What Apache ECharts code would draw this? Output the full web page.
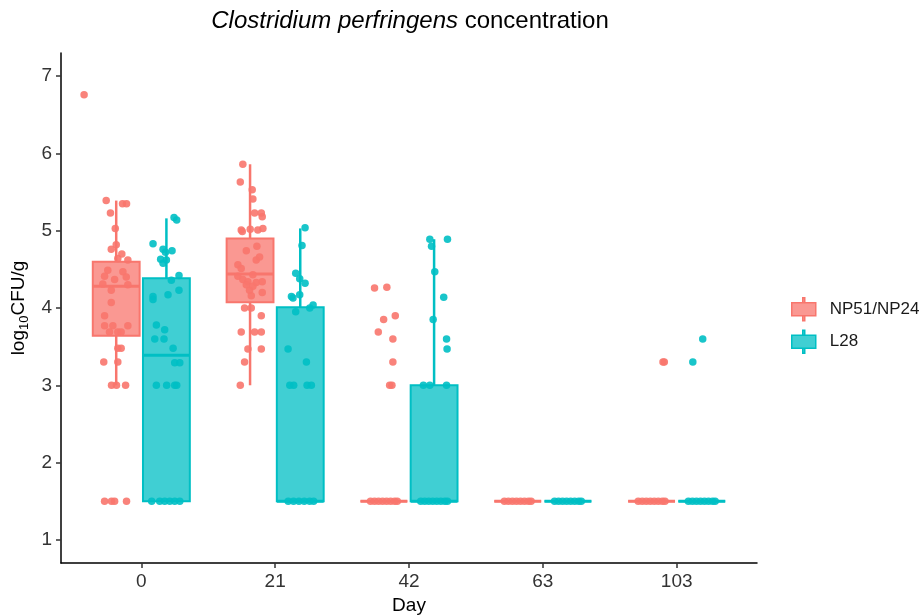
<!DOCTYPE html>
<html>
<head>
<meta charset="utf-8">
<script src="https://cdn.jsdelivr.net/npm/echarts@6/dist/echarts.min.js"></script>
<style>
  html, body { margin: 0; background: #fff; }
  #chart { width: 922px; height: 615px; }
</style>
</head>
<body>
<div id="chart"></div>
<script>
const days = ['0', '21', '42', '63', '103'];
const groupNames = ['NP51/NP24', 'L28'];
const yTicks = [1, 2, 3, 4, 5, 6, 7];

// box stats per day: [lower whisker, Q1, median, Q3, upper whisker]
const npBox = [
  [3.0, 3.64, 4.28, 4.60, 5.39],
  [3.0, 4.075, 4.44, 4.90, 5.86],
  [1.5, 1.5, 1.5, 1.5, 1.5],
  [1.5, 1.5, 1.5, 1.5, 1.5],
  [1.5, 1.5, 1.5, 1.5, 1.5]
];
const l28Box = [
  [1.5, 1.5, 3.39, 4.385, 5.16],
  [1.5, 1.5, 1.5, 4.01, 5.03],
  [1.5, 1.5, 1.5, 3.0, 4.89],
  [1.5, 1.5, 1.5, 1.5, 1.5],
  [1.5, 1.5, 1.5, 1.5, 1.5]
];

// jittered samples per day: [jitter (category units), log10 CFU/g]
const npPoints = [
  [[-0.24, 6.76], [-0.075, 5.39], [0.047, 5.35], [0.077, 5.35], [-0.043, 5.23], [-0.007, 5.03],
   [0, 4.82], [-0.037, 4.76], [0.042, 4.70], [0.012, 4.64], [0.087, 4.62], [-0.063, 4.49],
   [0.05, 4.47], [-0.087, 4.41], [0.075, 4.40], [-0.012, 4.37], [-0.1, 4.31], [0.087, 4.30],
   [-0.037, 4.23], [-0.037, 4.07], [-0.087, 3.90], [-0.087, 3.77], [-0.025, 3.77], [0.087, 3.77],
   [-0.05, 3.69], [0.012, 3.69], [0.037, 3.69], [0.012, 3.48], [0.037, 3.48], [-0.093, 3.30],
   [0.012, 3.30], [-0.035, 3.0], [0.002, 3.0], [0.07, 3.0],
   [-0.087, 1.5], [-0.035, 1.5], [-0.012, 1.5], [0.077, 1.5]],
  [[-0.054, 5.86], [-0.073, 5.63], [0.016, 5.53], [0.021, 5.41], [0.034, 5.23], [0.084, 5.23],
   [0.091, 5.18], [-0.066, 5.01], [-0.058, 4.99], [0.001, 5.02], [0.058, 5.01], [0.096, 5.03],
   [-0.028, 4.74], [0.051, 4.80], [0.046, 4.62], [0.071, 4.66], [-0.091, 4.56], [-0.066, 4.51],
   [-0.091, 4.41], [-0.054, 4.37], [-0.016, 4.34], [0.021, 4.43], [0.046, 4.33], [0.091, 4.34],
   [-0.028, 4.30], [-0.004, 4.23], [0.021, 4.28], [0.091, 4.20], [0.009, 4.16], [-0.041, 4.0],
   [0.009, 4.0], [0.084, 3.90], [-0.066, 3.69], [0.034, 3.69], [0.084, 3.69], [-0.016, 3.47],
   [0.084, 3.47], [-0.041, 3.30], [-0.073, 3.0]],
  [[-0.07, 4.26], [0.022, 4.27], [0.085, 3.90], [-0.002, 3.85], [-0.042, 3.69], [0.067, 3.60],
   [0.067, 3.30], [0.043, 3.0], [0.06, 3.0],
   [-0.1, 1.5], [-0.07, 1.5], [-0.04, 1.5], [-0.01, 1.5], [0.02, 1.5], [0.05, 1.5], [0.08, 1.5], [0.1, 1.5]],
  [[-0.1, 1.5], [-0.07, 1.5], [-0.04, 1.5], [-0.01, 1.5], [0.02, 1.5], [0.05, 1.5], [0.08, 1.5], [0.1, 1.5]],
  [[0.085, 3.3], [0.095, 3.3],
   [-0.1, 1.5], [-0.07, 1.5], [-0.04, 1.5], [-0.01, 1.5], [0.02, 1.5], [0.05, 1.5], [0.08, 1.5], [0.1, 1.5]]
];
const l28Points = [
  [[0.057, 5.17], [0.077, 5.14], [-0.1, 4.83], [-0.025, 4.76], [0.042, 4.74], [-0.007, 4.72],
   [-0.043, 4.63], [0, 4.62], [-0.025, 4.58], [0.094, 4.42], [0.037, 4.36], [0.094, 4.23],
   [0.012, 4.17], [-0.1, 4.15], [-0.1, 4.11], [-0.075, 3.78], [-0.013, 3.72], [-0.087, 3.60],
   [-0.018, 3.60], [0.05, 3.48], [0.062, 3.29], [0.1, 3.29], [-0.075, 3.0], [0.002, 3.0],
   [0.062, 3.0], [0.077, 3.0],
   [-0.11, 1.5], [-0.05, 1.5], [-0.013, 1.5], [0.025, 1.5], [0.062, 1.5], [0.1, 1.5]],
  [[0.036, 5.04], [0.013, 4.81], [-0.034, 4.45], [-0.004, 4.38], [0.036, 4.32], [-0.066, 4.15],
   [-0.054, 4.13], [-0.004, 4.17], [-0.034, 3.95], [0.096, 4.04], [0.071, 4.0], [-0.091, 3.47],
   [0.046, 3.30], [-0.078, 3.0], [-0.049, 3.0], [0.051, 3.0], [0.083, 3.0],
   [-0.09, 1.5], [-0.05, 1.5], [-0.01, 1.5], [0.03, 1.5], [0.07, 1.5], [0.1, 1.5]],
  [[-0.032, 4.89], [0.1, 4.89], [-0.019, 4.80], [0.005, 4.47], [0.072, 4.14], [-0.007, 3.85],
   [0.093, 3.60], [0.097, 3.47], [-0.08, 3.0], [-0.032, 3.0], [0.093, 3.0],
   [-0.1, 1.5], [-0.07, 1.5], [-0.04, 1.5], [-0.01, 1.5], [0.02, 1.5], [0.05, 1.5], [0.08, 1.5], [0.1, 1.5]],
  [[-0.1, 1.5], [-0.07, 1.5], [-0.04, 1.5], [-0.01, 1.5], [0.02, 1.5], [0.05, 1.5], [0.08, 1.5], [0.1, 1.5]],
  [[-0.067, 3.3], [0.007, 3.6],
   [-0.1, 1.5], [-0.07, 1.5], [-0.04, 1.5], [-0.01, 1.5], [0.02, 1.5], [0.05, 1.5], [0.08, 1.5], [0.1, 1.5]]
];

const npColor = '#F8766D', npFill = 'rgba(248,118,109,0.75)';
const l28Color = '#00BFC4', l28Fill = 'rgba(0,191,196,0.75)';
const dodge = 0.1875;
const halfBox = 0.175;

function boxSeries(name, stats, offset, color, fill) {
  return {
    name: name,
    type: 'custom',
    silent: true,
    z: 2,
    itemStyle: { color: fill, borderColor: color },
    encode: { x: 0, y: [1, 2, 3, 4, 5] },
    data: stats.map(function (s, i) { return [i].concat(s); }),
    renderItem: function (params, api) {
      var x = api.value(0) + offset;
      var lo = api.coord([x, api.value(1)]);
      var q1 = api.coord([x, api.value(2)]);
      var md = api.coord([x, api.value(3)]);
      var q3 = api.coord([x, api.value(4)]);
      var hi = api.coord([x, api.value(5)]);
      var left = api.coord([x - halfBox, 1])[0];
      var right = api.coord([x + halfBox, 1])[0];
      return {
        type: 'group',
        children: [
          { type: 'line', shape: { x1: hi[0], y1: hi[1], x2: q3[0], y2: q3[1] },
            style: { stroke: color, lineWidth: 2.5 } },
          { type: 'line', shape: { x1: q1[0], y1: q1[1], x2: lo[0], y2: lo[1] },
            style: { stroke: color, lineWidth: 2.5 } },
          { type: 'rect', shape: { x: left, y: q3[1], width: right - left, height: q1[1] - q3[1] },
            style: { fill: fill, stroke: color, lineWidth: 2 } },
          { type: 'line', shape: { x1: left, y1: md[1], x2: right, y2: md[1] },
            style: { stroke: color, lineWidth: 3 } }
        ]
      };
    }
  };
}

function dotSeries(name, pts, offset, color) {
  var data = [];
  pts.forEach(function (list, i) {
    list.forEach(function (p) { data.push([i + offset + p[0], p[1]]); });
  });
  return {
    name: name,
    type: 'scatter',
    silent: true,
    z: 3,
    symbolSize: 7.5,
    itemStyle: { color: color, opacity: 0.9 },
    data: data
  };
}

const keyIcon = 'path://M11,0H13V5H11Z M0,5H24V18H0Z M11,18H13V23H11Z';

const chart = echarts.init(document.getElementById('chart'), null, { renderer: 'canvas' });
const option = {
  animation: false,
  backgroundColor: '#fff',
  title: {
    text: '{i|Clostridium perfringens} concentration',
    left: 410,
    top: 9,
    textAlign: 'center',
    padding: 0,
    textStyle: {
      fontFamily: 'Liberation Sans',
      fontSize: 24,
      fontWeight: 'normal',
      color: '#000',
      rich: { i: { fontFamily: 'Liberation Sans', fontSize: 24, fontStyle: 'italic', color: '#000' } }
    }
  },
  legend: {
    orient: 'vertical',
    left: 791,
    top: 297,
    padding: 0,
    itemWidth: 24,
    itemHeight: 23,
    itemGap: 8,
    selectedMode: false,
    textStyle: { fontFamily: 'Liberation Sans', fontSize: 17, color: '#1a1a1a', padding: [0, 0, 0, 9] },
    data: [
      { name: groupNames[0], icon: keyIcon, itemStyle: { color: npFill, borderColor: npColor, borderWidth: 1.5 } },
      { name: groupNames[1], icon: keyIcon, itemStyle: { color: l28Fill, borderColor: l28Color, borderWidth: 1.5 } }
    ]
  },
  grid: { left: 61, right: 165, top: 53, bottom: 52, containLabel: false, outerBoundsMode: 'none' },
  xAxis: {
    type: 'value',
    min: -0.6,
    max: 4.6,
    name: 'Day',
    nameLocation: 'middle',
    nameGap: 31,
    nameTextStyle: { fontFamily: 'Liberation Sans', fontSize: 19, color: '#000' },
    axisLine: { onZero: false, lineStyle: { color: '#000', width: 1.5 } },
    axisTick: { customValues: [0, 1, 2, 3, 4], length: 5, lineStyle: { color: '#333', width: 1.5 } },
    axisLabel: {
      customValues: [0, 1, 2, 3, 4],
      formatter: function (v) { return days[Math.round(v)]; },
      fontFamily: 'Liberation Sans', fontSize: 19, color: '#333', margin: 9
    },
    splitLine: { show: false }
  },
  yAxis: {
    type: 'value',
    min: 0.7,
    max: 7.3,
    name: '{a|log}{s|10}{a|CFU/g}',
    nameLocation: 'middle',
    nameRotate: 90,
    nameGap: 25,
    nameTextStyle: {
      fontFamily: 'Liberation Sans', fontSize: 19, color: '#000',
      rich: {
        a: { fontFamily: 'Liberation Sans', fontSize: 19, color: '#000', lineHeight: 24, verticalAlign: 'middle' },
        s: { fontFamily: 'Liberation Sans', fontSize: 13, color: '#000', lineHeight: 24, verticalAlign: 'bottom' }
      }
    },
    axisLine: { show: true, onZero: false, lineStyle: { color: '#000', width: 1.5 } },
    axisTick: { show: true, customValues: yTicks, length: 5, lineStyle: { color: '#333', width: 1.5 } },
    axisLabel: {
      customValues: yTicks,
      fontFamily: 'Liberation Sans', fontSize: 19, color: '#333', margin: 9
    },
    splitLine: { show: false }
  },
  series: [
    boxSeries(groupNames[0], npBox, -dodge, npColor, npFill),
    boxSeries(groupNames[1], l28Box, dodge, l28Color, l28Fill),
    dotSeries(groupNames[0], npPoints, -dodge, npColor),
    dotSeries(groupNames[1], l28Points, dodge, l28Color)
  ]
};
chart.setOption(option);
</script>
</body>
</html>
